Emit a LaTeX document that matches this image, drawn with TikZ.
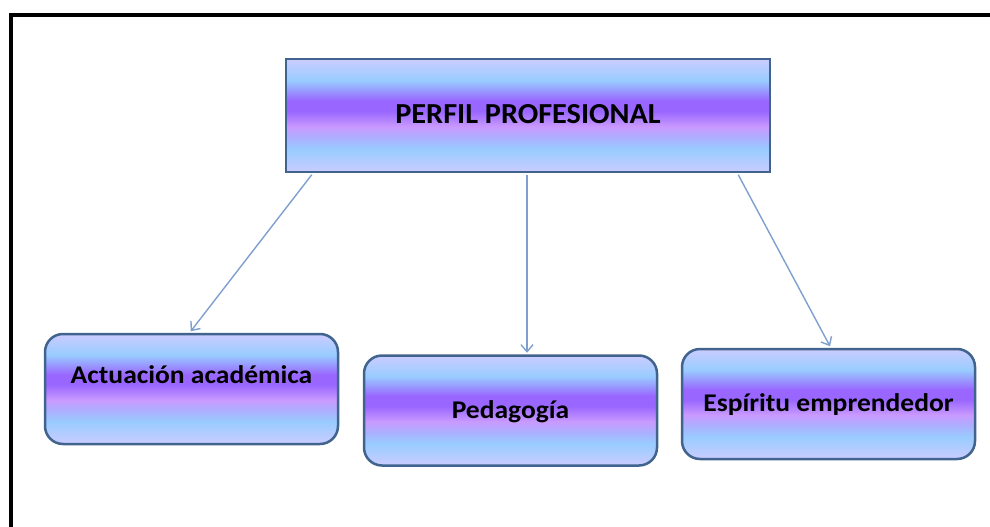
\documentclass[tikz,border=0pt]{standalone}
\usepackage{fontspec}
\setmainfont{Carlito}
\newfontfamily\headfont[FakeStretch=1.045]{Carlito}
\newfontfamily\itemfont[FakeStretch=1.08]{Carlito}
\usetikzlibrary{arrows.meta}

\definecolor{edge}{HTML}{41648F}
\definecolor{link}{HTML}{7FA0CF}
\definecolor{paleTop}{HTML}{CBCCFF}
\definecolor{skyA}{HTML}{99CCFF}
\definecolor{violet}{HTML}{9966FF}
\definecolor{lilac}{HTML}{C99AFF}
\definecolor{mist}{HTML}{ABB0FF}

% banded vertical fill (listed bottom to top; 25bp..75bp spans the shape)
\pgfdeclareverticalshading{bandfill}{100bp}{
  color(0bp)=(paleTop);
  color(25bp)=(paleTop);
  color(35bp)=(skyA);
  color(40bp)=(mist);
  color(45bp)=(lilac);
  color(52bp)=(violet);
  color(56.5bp)=(violet);
  color(65.5bp)=(skyA);
  color(75bp)=(paleTop);
  color(100bp)=(paleTop)}

\tikzset{
  topbox/.style={draw=edge, line width=2.5pt, shading=bandfill,
    minimum width=484pt, minimum height=113pt, inner sep=0pt},
  itembox/.style={draw=edge, line width=2.5pt, shading=bandfill,
    rounded corners=18pt, minimum width=293pt, minimum height=110pt, inner sep=0pt},
  toptext/.style={font=\headfont\bfseries\fontsize{29pt}{32pt}\selectfont, inner sep=0pt},
  itemtext/.style={font=\itemfont\bfseries\fontsize{25.5pt}{28pt}\selectfont, inner sep=0pt},
  link/.style={draw=link, line width=1.4pt,
    -{Straight Barb[length=7pt,width=12pt,line width=1.4pt]}}
}

\begin{document}
\begin{tikzpicture}[x=1pt,y=1pt]
  \useasboundingbox (0,0) rectangle (990,-527);
  \fill[white] (0,0) rectangle (990,-527);

  % outer frame, open to the right and bottom
  \draw[line width=4pt] (11,-540) -- (11,-15) -- (1000,-15);

  % boxes
  \node[topbox] (top) at (528,-115.5) {};
  \node[itembox] (b1) at (191.5,-389) {};
  \node[itembox] (b2) at (510.5,-410.5) {};
  \node[itembox] (b3) at (828.5,-404) {};

  % captions
  \node[toptext] (t0) at ([yshift=1pt]top.center) {PERFIL PROFESIONAL};
  \node[itemtext] (t1) at ([yshift=14pt]b1.center) {Actuación académica};
  \node[itemtext] (t2) at ([yshift=-1pt]b2.center) {Pedagogía};
  \node[itemtext] (t3) at ([yshift=-1pt]b3.center) {Espíritu emprendedor};

  % connectors
  \draw[link] ([xshift=27pt,yshift=-1.5pt]top.south west) -- ([xshift=147pt,yshift=1.5pt]b1.north west);
  \draw[link] ([xshift=-1pt,yshift=-1.5pt]top.south) -- ([xshift=16.5pt,yshift=1.5pt]b2.north);
  \draw[link] ([xshift=-33pt,yshift=-1.5pt]top.south east) -- ([xshift=1.5pt,yshift=1.5pt]b3.north);
\end{tikzpicture}
\end{document}
